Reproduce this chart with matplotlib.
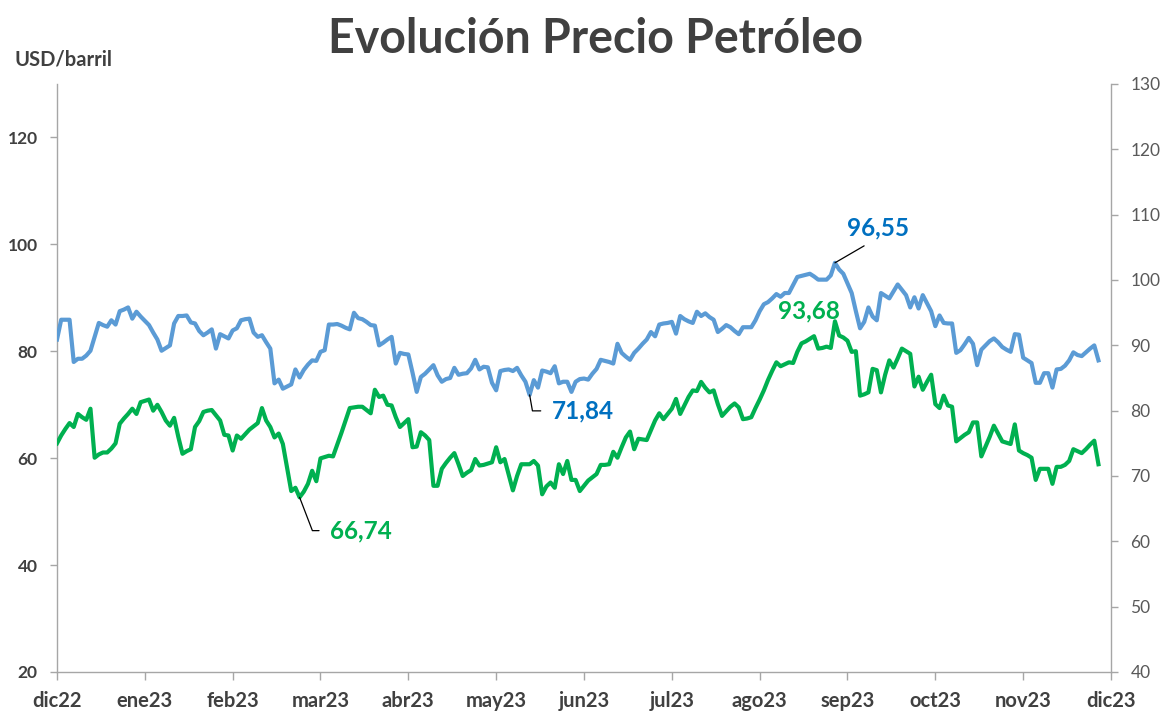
import numpy as np
import matplotlib.pyplot as plt
from matplotlib.ticker import MultipleLocator

# Brent (eje izq.) y WTI (eje der.), USD/barril, días hábiles dic22 - dic23
brent = [
    82.2, 85.9, 85.9, 85.9, 78.0, 78.6, 78.6, 79.2, 80.1, 82.7, 85.3, 84.9, 84.6, 85.8, 85.0, 87.5, 87.8, 88.2, 86.1, 87.4, 86.5,
    85.7, 84.9, 83.5, 82.2, 80.1, 80.6, 81.1, 85.2, 86.6, 86.6, 86.7, 85.4, 85.2, 83.8, 83.0, 83.5, 84.1, 80.5, 83.2, 82.8, 82.4,
    83.9, 84.3, 85.8, 86.0, 86.1, 83.5, 82.7, 83.0, 81.7, 80.5, 74.0, 74.7, 73.0, 73.4, 73.8, 76.6, 75.1, 76.5, 77.5, 78.3, 78.2,
    79.9, 80.2, 85.0, 85.0, 85.1, 84.8, 84.4, 84.1, 87.2, 86.2, 86.0, 85.5, 84.9, 84.8, 81.1, 81.6, 82.2, 82.7, 77.7, 79.7, 79.5,
    79.4, 76.0, 72.4, 75.2, 75.8, 76.6, 77.4, 75.5, 74.3, 74.8, 75.0, 76.9, 75.6, 75.8, 75.9, 76.8, 78.4, 76.6, 77.1, 77.0, 74.1,
    72.7, 76.3, 76.5, 76.6, 76.3, 76.9, 75.5, 74.3, 71.84, 74.6, 73.2, 76.4, 76.2, 75.9, 77.2, 74.0, 74.3, 74.3, 72.4, 74.3, 74.8,
    74.9, 74.7, 75.8, 76.7, 78.4, 78.2, 78.0, 77.7, 81.4, 79.7, 79.0, 78.4, 79.7, 80.5, 81.4, 82.2, 83.6, 82.8, 85.0, 85.2, 85.3,
    85.5, 83.3, 86.6, 86.0, 85.6, 85.3, 87.4, 86.6, 87.1, 86.4, 85.9, 83.6, 84.2, 84.9, 84.5, 83.8, 83.2, 84.5, 84.5, 84.5, 85.8,
    87.5, 88.8, 89.2, 89.9, 90.7, 90.2, 90.9, 90.9, 92.4, 93.9, 94.1, 94.3, 94.5, 94.0, 93.4, 93.4, 93.4, 94.2, 96.55, 95.3, 94.5,
    92.7, 90.9, 87.5, 84.3, 85.5, 88.2, 86.5, 85.8, 90.9, 90.4, 89.9, 91.2, 92.5, 91.5, 90.5, 88.2, 90.1, 88.0, 90.5, 89.0, 87.5,
    84.7, 86.7, 85.3, 85.2, 85.2, 79.7, 80.2, 81.3, 82.5, 81.4, 77.4, 80.3, 81.1, 81.9, 82.4, 81.7, 80.8, 80.3, 79.9, 83.2, 83.1,
    78.8, 78.3, 77.8, 74.1, 74.1, 75.9, 75.9, 73.2, 76.6, 76.7, 77.3, 78.3, 79.8, 79.3, 79.1, 79.8, 80.5, 81.1, 78.3,
]
wti = [
    75.0, 76.2, 77.2, 78.1, 77.5, 79.5, 79.0, 78.6, 80.3, 72.8, 73.3, 73.6, 73.6, 74.2, 75.0, 78.0, 78.8, 79.5, 80.3, 79.5, 81.3,
    81.5, 81.7, 80.0, 80.9, 79.8, 78.5, 77.7, 78.9, 76.0, 73.4, 73.8, 74.1, 77.5, 78.4, 79.8, 80.0, 80.1, 79.3, 78.5, 76.3, 76.2,
    73.9, 76.2, 75.7, 76.4, 77.1, 77.6, 78.1, 80.4, 78.5, 77.5, 75.9, 76.5, 74.9, 71.3, 67.7, 68.2, 66.74, 67.6, 68.8, 70.8, 69.2,
    72.7, 72.9, 73.1, 73.0, 74.8, 76.6, 78.5, 80.4, 80.5, 80.6, 80.6, 80.1, 79.6, 83.2, 82.1, 82.3, 80.9, 80.8, 79.0, 77.5, 78.1,
    78.7, 74.4, 74.5, 76.7, 76.2, 75.5, 68.5, 68.5, 71.1, 72.0, 72.8, 73.5, 71.8, 70.0, 70.5, 70.9, 72.6, 71.6, 71.7, 71.9, 72.1,
    74.4, 72.1, 72.6, 70.2, 67.8, 70.0, 71.8, 71.8, 71.8, 72.3, 71.6, 67.2, 68.4, 69.0, 68.2, 71.8, 70.3, 72.3, 69.4, 69.4, 67.7,
    68.5, 69.3, 69.8, 70.3, 71.7, 71.7, 71.8, 73.7, 72.8, 74.4, 75.9, 76.8, 74.1, 75.7, 75.6, 75.5, 77.0, 78.5, 79.6, 78.7, 79.5,
    80.3, 81.8, 79.5, 80.8, 82.1, 83.1, 83.0, 84.4, 83.5, 82.8, 83.1, 81.0, 79.2, 79.9, 80.6, 81.1, 80.5, 78.7, 78.8, 79.0, 80.4,
    81.7, 83.1, 84.7, 86.1, 87.4, 86.8, 87.1, 87.4, 87.3, 89.0, 90.3, 90.6, 91.0, 91.4, 89.5, 89.6, 89.8, 89.6, 93.68, 91.5, 91.2,
    90.7, 89.0, 89.1, 82.3, 82.5, 82.8, 86.4, 86.2, 82.8, 85.5, 87.7, 86.6, 88.0, 89.5, 89.1, 88.7, 83.7, 85.2, 83.2, 84.4, 85.5,
    81.0, 80.4, 82.3, 80.8, 80.6, 75.3, 75.8, 76.3, 76.7, 78.2, 78.2, 73.0, 74.5, 76.0, 77.7, 76.5, 75.3, 75.1, 74.9, 77.9, 73.9,
    73.5, 73.2, 72.8, 69.4, 71.1, 71.1, 71.1, 68.8, 71.4, 71.4, 71.7, 72.3, 74.1, 73.8, 73.5, 74.1, 74.8, 75.4, 71.8,
]
months = ['dic22', 'ene23', 'feb23', 'mar23', 'abr23', 'may23', 'jun23',
          'jul23', 'ago23', 'sep23', 'oct23', 'nov23', 'dic23']
days_per_tick = 21

plt.rcParams['font.family'] = ['Lato', 'DejaVu Sans']

GRAY = '#404040'
AXC = '#a6a6a6'
BLUE = '#5b9bd5'
BLUE_TXT = '#0070c0'
GREEN = '#00b050'

fig = plt.figure(figsize=(11.65, 7.15), dpi=100)
ax = fig.add_axes([57 / 1165, 1 - 672 / 715, (1111 - 57) / 1165, (672 - 84) / 715])
ax2 = ax.twinx()

x = np.arange(len(brent))
ax.plot(x, brent, color=BLUE, lw=3.0, solid_joinstyle='round', zorder=3)
ax2.plot(x, wti, color=GREEN, lw=3.0, solid_joinstyle='round', zorder=3)

ax.set_xlim(0, days_per_tick * (len(months) - 1))
ax.set_ylim(20, 130)
ax2.set_ylim(40, 130)
ax.set_yticks(np.arange(20, 121, 20))
ax2.yaxis.set_major_locator(MultipleLocator(10))

ax.set_xticks(np.arange(len(months)) * days_per_tick)
ax.set_xticklabels(months)

for a in (ax, ax2):
    a.spines['top'].set_visible(False)
    for s in ('left', 'right', 'bottom'):
        a.spines[s].set_color(AXC)
        a.spines[s].set_linewidth(1.0)
ax.spines['right'].set_visible(False)
ax2.spines['left'].set_visible(False)
ax2.spines['bottom'].set_visible(False)

ax.tick_params(axis='y', direction='out', length=5, width=1, color=AXC, pad=9,
               labelsize=12.5, labelcolor=GRAY)
ax.tick_params(axis='x', direction='out', length=6, width=1, color=AXC, pad=8,
               labelsize=14.5, labelcolor=GRAY)
ax2.tick_params(axis='y', direction='out', length=5, width=1, color=AXC, pad=9,
                labelsize=12.5, labelcolor='#595959')
for lbl in ax.get_yticklabels() + ax.get_xticklabels():
    lbl.set_fontweight('bold')

fig.text(595 / 1165, 1 - 53 / 715, 'Evolución Precio Petróleo', ha='center',
         va='baseline', fontsize=33.5, fontweight='bold', color=GRAY)
fig.text(14 / 1165, 1 - 66 / 715, 'USD/barril', ha='left', va='baseline',
         fontsize=14.5, fontweight='bold', color=GRAY)


def fmt(v):
    return f'{v:.2f}'.replace('.', ',')


line_kw = dict(arrowstyle='-', color='black', lw=0.9, shrinkB=0)
lab_kw = dict(textcoords='offset points', va='center', fontsize=17.5, fontweight='bold')

# máximo Brent
i = int(np.argmax(brent))
ax.annotate(fmt(brent[i]), xy=(i, brent[i]), xytext=(31, 25), ha='center', color=BLUE_TXT,
            arrowprops=dict(relpos=(0.45, 0), shrinkA=5, **line_kw), **lab_kw)
# mínimo Brent
i = int(np.argmin(brent))
ax.annotate(fmt(brent[i]), xy=(i, brent[i]), xytext=(16, -11.5), ha='left', color=BLUE_TXT,
            arrowprops=dict(relpos=(0, 0.5), shrinkA=6,
                            connectionstyle='angle,angleA=0,angleB=-80,rad=0', **line_kw),
            **lab_kw)
# máximo WTI
i = int(np.argmax(wti))
ax2.annotate(fmt(wti[i]), xy=(i, wti[i]), xytext=(-19, 7.5), ha='center', color=GREEN, **lab_kw)
# mínimo WTI
i = int(np.argmin(wti))
ax2.annotate(fmt(wti[i]), xy=(i, wti[i]), xytext=(22, -24), ha='left', color=GREEN,
             arrowprops=dict(relpos=(0, 0.5), shrinkA=6,
                             connectionstyle='angle,angleA=0,angleB=-69,rad=0', **line_kw),
             **lab_kw)

fig.savefig('out.png', dpi=100)
